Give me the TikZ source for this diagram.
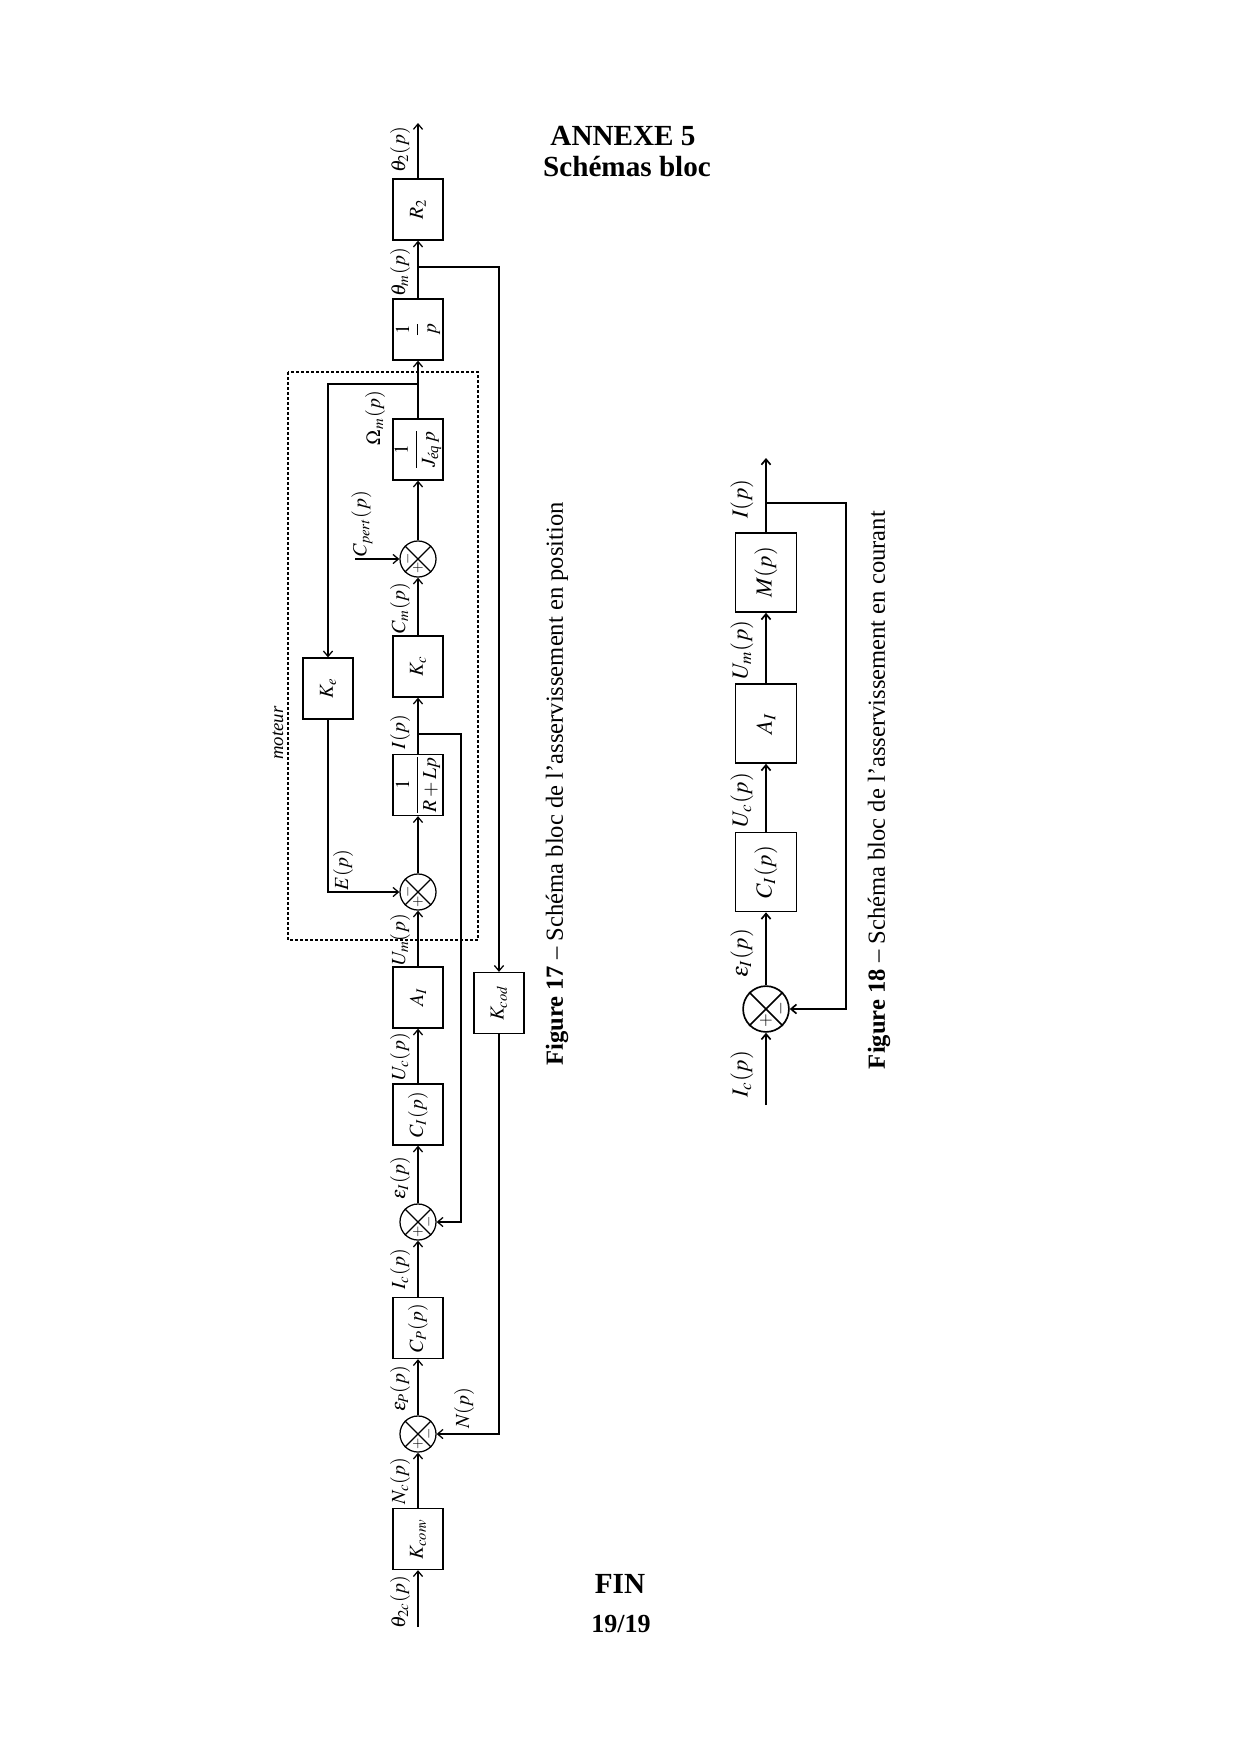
\documentclass[tikz,border=0pt]{standalone}
\usepackage{amsmath}
\usepackage{mathptmx}
\usepackage{fontspec}
\setmainfont{Liberation Serif}
\usetikzlibrary{arrows.meta,calc}
\tikzset{
  blk/.style={draw, line width=0.6pt, minimum width=24pt, minimum height=29.3pt, inner sep=0pt, font=\fontsize{9.5}{11}\selectfont},
  sumc/.style={draw, circle, line width=0.6pt, minimum size=17.3pt, inner sep=0pt},
  lbl/.style={rotate=90, inner sep=0pt, font=\fontsize{9.6}{11}\selectfont},
  sgn/.style={rotate=90, inner sep=0pt, font=\fontsize{7}{8}\selectfont},
  arr/.style={-{Straight Barb[length=2.6pt,width=4.4pt]}},
  wire/.style={line width=0.6pt},
  wireB/.style={line width=0.8pt},
  blkB/.style={blk, line width=0.8pt, minimum width=29.3pt, minimum height=37.9pt, font=\fontsize{11}{13}\selectfont},
  sumcB/.style={sumc, line width=0.8pt, minimum size=22pt},
  lblB/.style={lbl, font=\fontsize{11}{13}\selectfont},
  sgnB/.style={sgn, font=\fontsize{8.5}{10}\selectfont},
  capt/.style={rotate=90, inner sep=0pt, font=\rmfamily\fontsize{11.8}{13}\selectfont},
  ttl/.style={anchor=base, inner sep=0pt, font=\rmfamily\fontsize{14}{16}\selectfont\bfseries},
}
\begin{document}
\begin{tikzpicture}[x=0.48pt,y=-0.48pt]
\useasboundingbox (0,0) rectangle (1240,1754);
\fill[white] (0,0) rectangle (1240,1754);

% titles
\node[ttl] (t1) at (623,145) {ANNEXE 5};
\node[ttl] (t2) at (627,176) {Schémas bloc};
\node[ttl] (t3) at (620,1593) {FIN};
\node[ttl, font=\rmfamily\fontsize{12.5}{14}\selectfont\bfseries] (t4) at (621,1632) {19/19};

% ---------------- Figure 17 ----------------
\draw[dashed, dash pattern=on 1.3pt off 1.1pt, line width=0.5pt] (288,372) rectangle (478,940);
\node[lbl, font=\fontsize{9}{11}\selectfont\itshape] (mot) at (278,733) {moteur};

\node[blk] (R2) at (418,209.5) {\rotatebox{90}{$R_2$}};
\node[blk] (P) at (418,329.5) {\rotatebox{90}{$\dfrac{1}{p}$}};
\node[blk] (J) at (418,449.5) {\rotatebox{90}{$\dfrac{1}{J_{\textit{éq}}\,p}$}};
\node[sumc] (SC) at (418,559) {};
\node[blk] (Kc) at (418,666.5) {\rotatebox{90}{$K_c$}};
\node[blk] (RL) at (418,785) {\rotatebox{90}{$\dfrac{1}{R+Lp}$}};
\node[sumc] (SE) at (418,892) {};
\node[blk] (AI) at (418,997.5) {\rotatebox{90}{$A_I$}};
\node[blk] (CI) at (418,1114.5) {\rotatebox{90}{$C_I(p)$}};
\node[sumc] (SI) at (418,1222) {};
\node[blk] (Cp) at (418,1328) {\rotatebox{90}{$C_P(p)$}};
\node[sumc] (SP) at (418,1434) {};
\node[blk] (Kconv) at (418,1539) {\rotatebox{90}{$K_{conv}$}};
\node[blk] (Ke) at (328,688.5) {\rotatebox{90}{$K_e$}};
\node[blk] (Kcod) at (499,1003) {\rotatebox{90}{$K_{cod}$}};

\foreach \s in {SC,SE,SI,SP}{
  \draw[wire] (\s.north west) -- (\s.south east) (\s.north east) -- (\s.south west);
}
% signs
\node[sgn] at ($(SC)+(-10,0)$) {$-$};
\node[sgn] at ($(SC)+(0,9)$) {$+$};
\node[sgn] at ($(SE)+(-10,0)$) {$-$};
\node[sgn] at ($(SE)+(0,10)$) {$+$};
\foreach \s in {SI,SP}{
  \node[sgn] at ($(\s)+(11,0)$) {$-$};
  \node[sgn] at ($(\s)+(0,10)$) {$+$};
}

% coordinates
\coordinate (in1) at (418,1627);
\coordinate (out1) at (418,123);
\coordinate (bT) at (418,267);
\coordinate (bW) at (418,384);
\coordinate (bI) at (418,734);
\coordinate (cpin) at (355,559);

% main chain
\draw[wire,arr] (in1) -- (Kconv.south);
\draw[wire,arr] (Kconv.north) -- (SP.south);
\draw[wire,arr] (SP.north) -- (Cp.south);
\draw[wire,arr] (Cp.north) -- (SI.south);
\draw[wire,arr] (SI.north) -- (CI.south);
\draw[wire,arr] (CI.north) -- (AI.south);
\draw[wire,arr] (AI.north) -- (SE.south);
\draw[wire,arr] (SE.north) -- (RL.south);
\draw[wire,arr] (RL.north) -- (Kc.south);
\draw[wire,arr] (Kc.north) -- (SC.south);
\draw[wire,arr] (SC.north) -- (J.south);
\draw[wire,arr] (J.north) -- (P.south);
\draw[wire,arr] (P.north) -- (R2.south);
\draw[wire,arr] (R2.north) -- (out1);

% feedbacks
\draw[wire,arr] (bT) -| (Kcod.north);
\draw[wire,arr] (Kcod.south) |- (SP.east);
\draw[wire,arr] (bW) -| (Ke.north);
\draw[wire,arr] (Ke.south) |- (SE.west);
\draw[wire,arr] (bI) -- ++(43,0) |- (SI.east);
\draw[wire,arr] (cpin) -- (SC.west);

% labels
\node[lbl] at (400,150) {$\theta_2(p)$};
\node[lbl] at (400,272) {$\theta_m(p)$};
\node[lbl] at (375,418) {$\Omega_m(p)$};
\node[lbl] at (362,524) {$C_{pert}(p)$};
\node[lbl] at (400,608) {$C_m(p)$};
\node[lbl] at (400,732) {$I(p)$};
\node[lbl] at (343,870) {$E(p)$};
\node[lbl] at (400,940) {$U_m(p)$};
\node[lbl] at (400,1057) {$U_c(p)$};
\node[lbl] at (400,1178) {$\varepsilon_I(p)$};
\node[lbl] at (400,1269) {$I_c(p)$};
\node[lbl] at (400,1389) {$\varepsilon_P(p)$};
\node[lbl] at (464,1408) {$N(p)$};
\node[lbl] at (400,1481) {$N_c(p)$};
\node[lbl] at (400,1602) {$\theta_{2c}(p)$};

\node[capt] (cap17) at (557,784) {\textbf{Figure 17} – Schéma bloc de l’asservissement en position};

% ---------------- Figure 18 ----------------
\node[blkB] (M) at (766,572.5) {\rotatebox{90}{$M(p)$}};
\node[blkB] (AI2) at (766,723.5) {\rotatebox{90}{$A_I$}};
\node[blkB] (CI2) at (766,872) {\rotatebox{90}{$C_I(p)$}};
\node[sumcB] (S2) at (766,1009) {};
\draw[wireB] (S2.north west) -- (S2.south east) (S2.north east) -- (S2.south west);
\node[sgnB] at ($(S2)+(15,0)$) {$-$};
\node[sgnB] at ($(S2)+(0,12)$) {$+$};

\coordinate (in2) at (766,1105);
\coordinate (out2) at (766,458);
\coordinate (b2) at (766,503);
\draw[wireB,arr] (in2) -- (S2.south);
\draw[wireB,arr] (S2.north) -- (CI2.south);
\draw[wireB,arr] (CI2.north) -- (AI2.south);
\draw[wireB,arr] (AI2.north) -- (M.south);
\draw[wireB,arr] (M.north) -- (out2);
\draw[wireB,arr] (b2) -- ++(80,0) |- (S2.east);

\node[lblB] at (742,499) {$I(p)$};
\node[lblB] at (742,650) {$U_m(p)$};
\node[lblB] at (742,800) {$U_c(p)$};
\node[lblB] at (742,953) {$\varepsilon_I(p)$};
\node[lblB] at (742,1074) {$I_c(p)$};

\node[capt] (cap18) at (879,790) {\textbf{Figure 18} – Schéma bloc de l’asservissement en courant};
\end{tikzpicture}
\end{document}
